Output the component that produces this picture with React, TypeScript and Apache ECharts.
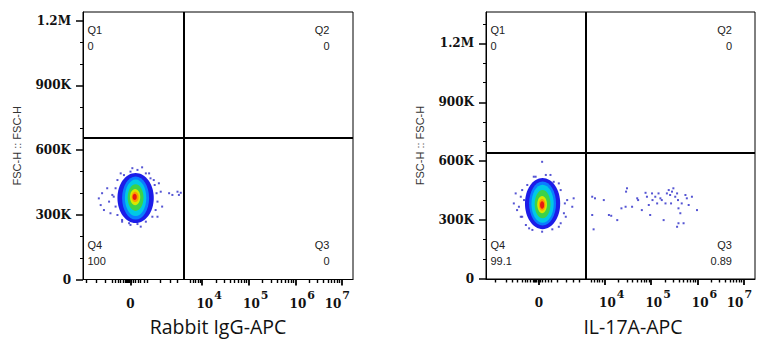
import { useEffect, useRef } from "react";
import * as echarts from "echarts";

// ---------- axis ticks / labels ----------
const yTickValues = [0, 300000, 600000, 900000, 1200000];
const yTickLabels = ["0", "300K", "600K", "900K", "1.2M"];
const yMinorTicks = [100000, 200000, 400000, 500000, 700000, 800000, 1000000, 1100000, 1300000];
const xDecades = [4, 5, 6, 7];
const xDecadeSteps = [2, 3, 4, 5, 6, 7, 8, 9];
const leftZero = 2.46;
const rightZero = 2.58;
const leftLowTicks = [1.52, 1.73, 1.91, 2.07, 2.14, 2.19, 2.25, 2.3, 2.34, 2.37, 2.4, 2.42, 2.44, 2.48, 2.51, 2.57, 2.62, 2.68, 2.75, 2.82, 3.09, 3.32, 3.47, 3.75, 3.81, 3.86, 3.91, 3.95];
const rightLowTicks = [1.65, 1.87, 2.01, 2.11, 2.22, 2.28, 2.34, 2.4, 2.45, 2.48, 2.5, 2.53, 2.56, 2.6, 2.66, 2.72, 2.79, 2.84, 2.97, 3.16, 3.33, 3.44, 3.72, 3.78, 3.84, 3.89, 3.94];

// ---------- quadrant statistics ----------
const quadNames = ["Q1", "Q2", "Q3", "Q4"];
const leftQuadValues = ["0", "0", "0", "100"];
const rightQuadValues = ["0", "0", "0.89", "99.1"];

// ---------- gates [x, y] ----------
const leftGate = [3.61, 657000];
const rightGate = [3.6, 643000];

// ---------- density levels [x, y, halfWidthX, halfHeightY] outer -> inner ----------
const leftDensity = [
  [2.57, 378000, 0.39, 116000],
  [2.57, 378000, 0.29, 100000],
  [2.57, 379000, 0.23, 85000],
  [2.57, 380000, 0.17, 62000],
  [2.56, 382000, 0.11, 38000],
  [2.56, 383000, 0.075, 24000],
  [2.55, 383000, 0.045, 14000],
];
const rightDensity = [
  [2.66, 384000, 0.38, 130000],
  [2.66, 384000, 0.29, 112000],
  [2.66, 383000, 0.24, 97000],
  [2.66, 381000, 0.17, 72000],
  [2.65, 379000, 0.105, 44000],
  [2.65, 378000, 0.07, 30000],
  [2.65, 377000, 0.045, 19000],
];

// ---------- sparse events ----------
const leftSpeckles = [
  [1.78, 376000], [1.82, 345000], [1.85, 400000], [1.89, 322000], [1.96, 423000], [2.0, 361000],
  [2.03, 307000], [2.07, 392000], [2.25, 492000], [2.28, 268000], [2.5, 516000], [2.71, 520000],
  [2.86, 492000], [2.96, 461000], [3.07, 446000], [3.11, 407000], [3.14, 338000], [3.04, 291000],
  [3.29, 400000], [3.36, 392000], [3.47, 407000], [3.5, 392000], [3.54, 402000], [2.68, 245000],
  [2.46, 253000],
  [2.18, 461000], [2.14, 423000], [2.1, 384000], [2.14, 338000], [2.18, 299000], [2.28, 276000],
  [2.43, 261000], [2.61, 257000], [2.79, 268000], [2.93, 291000], [3.0, 322000], [3.04, 361000],
  [3.02, 400000], [2.98, 438000], [2.89, 469000], [2.79, 492000], [2.61, 508000], [2.46, 500000],
  [2.32, 484000],
];
const rightSpeckles = [
  [2.65, 597000], [2.08, 436000], [2.04, 385000], [2.11, 351000], [2.19, 317000], [3.19, 402000],
  [3.3, 368000], [3.33, 411000], [3.16, 317000], [3.01, 266000], [2.37, 258000], [2.22, 453000],
  [2.47, 521000], [2.83, 530000], [3.01, 487000], [2.26, 402000],
  [2.19, 419000], [2.15, 368000], [2.22, 317000], [2.3, 275000], [2.44, 250000], [2.65, 241000],
  [2.87, 253000], [3.05, 284000], [3.12, 335000], [3.14, 385000], [3.05, 453000], [2.9, 495000],
  [2.73, 530000], [2.51, 521000], [2.33, 479000],
];
const rightQ3Events = [
  [3.73, 419000], [3.79, 411000], [3.98, 402000], [3.73, 326000], [3.76, 253000], [4.09, 326000],
  [4.14, 322000], [4.27, 300000], [4.36, 360000], [4.45, 368000], [4.46, 445000], [4.48, 462000],
  [4.59, 368000], [4.7, 411000], [4.72, 402000], [4.8, 351000], [4.88, 439000], [4.91, 419000],
  [4.95, 377000], [4.98, 326000], [5.02, 436000], [5.03, 402000], [5.09, 419000], [5.13, 385000],
  [5.16, 436000], [5.2, 411000], [5.23, 402000], [5.27, 300000], [5.31, 385000], [5.34, 436000],
  [5.38, 453000], [5.41, 428000], [5.43, 385000], [5.45, 445000], [5.48, 462000], [5.52, 419000],
  [5.56, 436000], [5.58, 402000], [5.59, 360000], [5.63, 335000], [5.66, 385000], [5.7, 284000],
  [5.74, 428000], [5.77, 411000], [5.81, 377000], [5.88, 419000], [5.99, 351000], [5.56, 266000],
  [5.59, 284000],
];

const densityColors = ["#1c1ce8", "#0a7cff", "#00c8e6", "#3cd24a", "#d8e800", "#ff9a00", "#e81a10"];

const TICK_FONT = "DejaVu Serif";

function decadeMinor(): number[] {
  const out: number[] = [];
  xDecades.slice(0, -1).forEach((d) => xDecadeSteps.forEach((k) => out.push(d + Math.log10(k))));
  return out;
}

function xAxes(gridIndex: number, zero: number, lowTicks: number[], name: string, namePad: number) {
  const major = [zero, ...xDecades];
  const common = { type: "value", gridIndex, position: "bottom", min: 1.44, max: 7.24, splitLine: { show: false } };
  return [
    {
      ...common,
      name,
      nameLocation: "middle",
      nameGap: 37,
      nameTextStyle: { fontFamily: "Open Sans", fontSize: 19.5, color: "#111", padding: [0, 0, 0, namePad] },
      axisLine: { show: true, onZero: false, lineStyle: { color: "#000", width: 1 } },
      axisTick: { show: true, customValues: major, length: 6, lineStyle: { color: "#000", width: 1.8 } },
      axisLabel: {
        customValues: major,
        verticalAlign: "bottom",
        margin: 30,
        formatter: (v: number) => {
          if (Math.abs(v - zero) < 1e-6) return "{b|0}";
          if (v === xDecades[xDecades.length - 1]) return "{b|10}{s|" + v + "}{r| }";
          return "{l| }{b|10}{s|" + v + "}";
        },
        rich: {
          b: { fontFamily: TICK_FONT, fontWeight: "bold", fontSize: 12, color: "#111", verticalAlign: "bottom", lineHeight: 14 },
          s: { fontFamily: TICK_FONT, fontWeight: "bold", fontSize: 11, color: "#111", verticalAlign: "bottom", lineHeight: 14, padding: [0, 0, 9, 1] },
          l: { width: 14, fontSize: 12 },
          r: { width: 9, fontSize: 12 },
        },
      },
    },
    {
      ...common,
      axisLine: { show: false, onZero: false },
      axisTick: { show: true, customValues: [...lowTicks, ...decadeMinor()], length: 3.5, lineStyle: { color: "#000", width: 1.4 } },
      axisLabel: { show: false },
    },
  ];
}

function yAxes(gridIndex: number, max: number) {
  const common = { type: "value", gridIndex, position: "left", min: 0, max, splitLine: { show: false } };
  return [
    {
      ...common,
      name: "FSC-H :: FSC-H",
      nameLocation: "middle",
      nameGap: 61,
      nameTextStyle: { fontFamily: "Liberation Sans", fontSize: 11, color: "#333" },
      axisLine: { show: true, onZero: false, lineStyle: { color: "#000", width: 1 } },
      axisTick: { show: true, customValues: yTickValues, length: 7, lineStyle: { color: "#000", width: 1.5 } },
      axisLabel: {
        customValues: yTickValues,
        margin: 12,
        fontFamily: TICK_FONT,
        fontWeight: "bold",
        fontSize: 12,
        color: "#111",
        formatter: (v: number) => yTickLabels[yTickValues.indexOf(v)] ?? "",
      },
    },
    {
      ...common,
      axisLine: { show: false, onZero: false },
      axisTick: { show: true, customValues: yMinorTicks.filter((t) => t < max), length: 3, lineStyle: { color: "#000", width: 1 } },
      axisLabel: { show: false },
    },
  ];
}

function densitySeries(axisIdx: number, levels: number[][]) {
  return {
    type: "custom",
    xAxisIndex: axisIdx,
    yAxisIndex: axisIdx,
    silent: true,
    data: levels.map((l, i) => [...l, i]),
    renderItem: (_p: any, api: any) => {
      const c = api.coord([api.value(0), api.value(1)]);
      const s = api.size([api.value(2), api.value(3)], [api.value(0), api.value(1)]);
      return {
        type: "ellipse",
        shape: { cx: c[0], cy: c[1], rx: s[0], ry: s[1] },
        style: { fill: densityColors[api.value(4)] },
      };
    },
    z: 2,
  };
}

function dotSeries(axisIdx: number, data: number[][], gate?: number[]) {
  const s: any = {
    type: "scatter",
    xAxisIndex: axisIdx,
    yAxisIndex: axisIdx,
    data,
    symbol: "rect",
    symbolSize: 2,
    itemStyle: { color: "#2a2ac8" },
    silent: true,
    z: 3,
  };
  if (gate) {
    s.markLine = {
      silent: true,
      symbol: "none",
      label: { show: false },
      lineStyle: { color: "#000", width: 2, type: "solid" },
      data: [{ xAxis: gate[0] }, { yAxis: gate[1] }],
      z: 5,
    };
  }
  return s;
}

function quadTexts(left: number, right: number, values: string[]) {
  const font = { fontFamily: "Liberation Sans", fontSize: 11, fill: "#222" };
  const items: any[] = [];
  const place = [
    { x: left, y: 30, align: "left" },
    { x: right, y: 30, align: "right" },
    { x: right, y: 245, align: "right" },
    { x: left, y: 245, align: "left" },
  ];
  place.forEach((p, i) => {
    items.push({ type: "text", x: p.x, y: p.y, z: 10, style: { ...font, text: quadNames[i], align: p.align, verticalAlign: "middle" } });
    items.push({ type: "text", x: p.x, y: p.y + 16, z: 10, style: { ...font, text: values[i], align: p.align, verticalAlign: "middle" } });
  });
  return items;
}

export default function App() {
  const ref = useRef<HTMLDivElement>(null);
  useEffect(() => {
    if (!ref.current) return;
    const chart = echarts.init(ref.current, undefined, { renderer: "svg" });
    const x0 = xAxes(0, leftZero, leftLowTicks, "Rabbit IgG-APC", 0);
    const x1 = xAxes(1, rightZero, rightLowTicks, "IL-17A-APC", 25);
    const y0 = yAxes(0, 1240000);
    const y1 = yAxes(1, 1360000);
    chart.setOption({
      animation: false,
      backgroundColor: "#fff",
      grid: [
        { left: 83, top: 12, width: 270, height: 267.5, show: true, borderColor: "#000", borderWidth: 1, backgroundColor: "transparent" },
        { left: 486, top: 12, width: 269, height: 267, show: true, borderColor: "#000", borderWidth: 1, backgroundColor: "transparent" },
      ],
      xAxis: [...x0, ...x1],
      yAxis: [...y0, ...y1],
      series: [
        densitySeries(0, leftDensity),
        dotSeries(0, leftSpeckles, leftGate),
        densitySeries(2, rightDensity),
        dotSeries(2, [...rightSpeckles, ...rightQ3Events], rightGate),
      ],
      graphic: [...quadTexts(87.5, 329.5, leftQuadValues), ...quadTexts(490.5, 732, rightQuadValues)],
    });
    return () => chart.dispose();
  }, []);
  return <div ref={ref} style={{ position: "absolute", left: 0, top: 0, width: 767, height: 350, background: "#fff" }} />;
}
